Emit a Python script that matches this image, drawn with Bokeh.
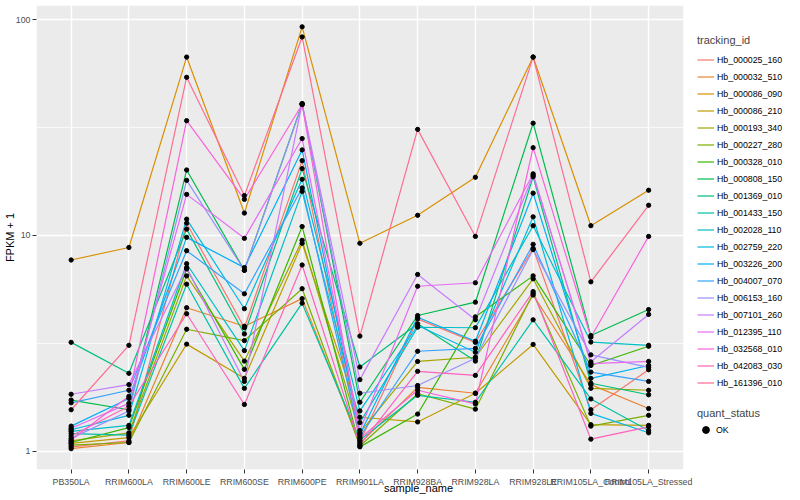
from bokeh.plotting import figure
from bokeh.models import Range1d, FixedTicker, Legend, LegendItem, BoxAnnotation
from bokeh.embed import file_html
from bokeh.resources import INLINE

samples = ["PB350LA", "RRIM600LA", "RRIM600LE", "RRIM600SE", "RRIM600PE", "RRIM901LA",
           "RRIM928BA", "RRIM928LA", "RRIM928LE", "RRIM105LA_Control", "RRIM105LA_Stressed"]

tracking_ids = ["Hb_000025_160", "Hb_000032_510", "Hb_000086_090", "Hb_000086_210", "Hb_000193_340",
                "Hb_000227_280", "Hb_000328_010", "Hb_000808_150", "Hb_001369_010", "Hb_001433_150",
                "Hb_002028_110", "Hb_002759_220", "Hb_003226_200", "Hb_004007_070", "Hb_006153_160",
                "Hb_007101_260", "Hb_012395_110", "Hb_032568_010", "Hb_042083_030", "Hb_161396_010"]

colors = ["#F8766D", "#EA8331", "#D89000", "#C09B00", "#A3A500", "#7CAE00", "#39B600", "#00BB4E",
          "#00BF7D", "#00C1A3", "#00BFC4", "#00BAE0", "#00B0F6", "#35A2FF", "#9590FF", "#C77CFF",
          "#E76BF3", "#FA62DB", "#FF62BC", "#FF6C91"]

# FPKM + 1 per sample (order of `samples`)
hb_000025_160 = [1.05, 1.12, 11.4, 3.74, 22.2, 1.11, 4.11, 3.20, 8.7, 1.56, 2.39]
hb_000032_510 = [1.03, 1.10, 4.63, 3.80, 5.10, 1.09, 1.98, 1.86, 5.3, 2.04, 1.58]
hb_000086_090 = [7.7, 8.8, 67.0, 12.7, 92.5, 9.2, 12.4, 18.6, 67.0, 11.1, 16.2]
hb_000086_210 = [1.09, 1.16, 3.14, 2.18, 9.2, 1.44, 1.37, 1.86, 3.13, 1.33, 1.32]
hb_000193_340 = [1.12, 1.22, 6.5, 2.62, 9.5, 1.22, 2.61, 2.73, 6.3, 1.96, 1.92]
hb_000227_280 = [1.07, 1.10, 3.68, 3.26, 5.67, 1.06, 1.85, 1.57, 5.4, 1.31, 1.47]
hb_000328_010 = [1.10, 1.29, 7.0, 2.40, 11.0, 1.05, 1.49, 4.20, 6.5, 2.50, 3.07]
hb_000808_150 = [1.73, 1.56, 20.1, 6.9, 40.8, 1.69, 4.26, 4.91, 33.1, 3.44, 4.54]
hb_001369_010 = [3.2, 2.3, 10.7, 3.5, 20.4, 2.46, 3.9, 2.62, 18.7, 2.07, 1.83]
hb_001433_150 = [1.21, 1.19, 5.95, 1.96, 4.86, 1.13, 1.82, 1.69, 4.07, 1.75, 1.25]
hb_002028_110 = [1.24, 1.32, 7.4, 2.93, 16.0, 1.36, 3.76, 3.74, 11.1, 3.21, 3.10]
hb_002759_220 = [1.26, 1.47, 11.9, 4.58, 18.2, 1.54, 3.83, 2.88, 12.2, 1.50, 1.22]
hb_003226_200 = [1.31, 1.76, 9.8, 7.1, 24.9, 1.20, 4.18, 3.24, 15.7, 2.18, 2.50]
hb_004007_070 = [1.68, 1.92, 8.5, 5.37, 16.6, 1.17, 2.91, 3.00, 9.1, 2.33, 2.11]
hb_006153_160 = [1.15, 1.54, 18.0, 6.9, 40.4, 1.86, 2.02, 2.70, 8.6, 2.80, 2.45]
hb_007101_260 = [1.84, 2.04, 7.1, 2.11, 40.8, 2.15, 6.6, 4.07, 19.0, 2.60, 4.31]
hb_012395_110 = [1.28, 1.67, 15.5, 9.7, 28.1, 1.25, 5.82, 6.04, 19.3, 2.55, 2.61]
hb_032568_010 = [1.13, 1.80, 34.0, 14.7, 40.4, 1.15, 1.92, 1.66, 25.5, 3.38, 9.9]
hb_042083_030 = [1.18, 1.62, 4.34, 1.65, 7.3, 1.07, 2.35, 2.25, 5.5, 1.14, 1.30]
hb_161396_010 = [1.56, 3.1, 54.0, 15.3, 83.0, 3.42, 31.0, 9.9, 67.0, 6.1, 13.8]

series = [hb_000025_160, hb_000032_510, hb_000086_090, hb_000086_210, hb_000193_340,
          hb_000227_280, hb_000328_010, hb_000808_150, hb_001369_010, hb_001433_150,
          hb_002028_110, hb_002759_220, hb_003226_200, hb_004007_070, hb_006153_160,
          hb_007101_260, hb_012395_110, hb_032568_010, hb_042083_030, hb_161396_010]

y_ticks = [1, 10, 100]

FONT = "Liberation Sans"

# discrete axis expansion (0.6 of a category on each side) and room on the right for the legends
x_lo = -0.6
x_panel_hi = len(samples) - 1 + 0.6
x_hi = 12.63

p = figure(width=800, height=500, output_backend="svg", toolbar_location=None, title=None,
           x_range=Range1d(x_lo, x_hi), y_range=Range1d(0.825, 116.1), y_axis_type="log",
           min_border_left=0, min_border_right=0, min_border_top=5, min_border_bottom=31)

p.background_fill_color = "white"
p.border_fill_color = "white"
p.outline_line_color = None

panel = BoxAnnotation(left=x_lo, right=x_panel_hi, fill_color="#EBEBEB", fill_alpha=1.0,
                      line_color=None, level="image")
p.add_layout(panel)

xs = list(range(len(samples)))

items = []
for tid, col, vals in zip(tracking_ids, colors, series):
    r = p.line(x=xs, y=vals, line_color=col, line_width=1.2)
    items.append(LegendItem(label=tid, renderers=[r]))

all_x = []
all_y = []
for vals in series:
    all_x.extend(xs)
    all_y.extend(vals)
pts = p.scatter(x=all_x, y=all_y, marker="circle", size=4.3, fill_color="black", line_color="black")

# grids
p.xgrid.grid_line_color = "white"
p.xgrid.grid_line_width = 1.4
p.ygrid.grid_line_color = "white"
p.ygrid.grid_line_width = 1.4
p.ygrid.minor_grid_line_color = "white"
p.ygrid.minor_grid_line_width = 0.7

# axes
xa = p.xaxis[0]
xa.ticker = FixedTicker(ticks=xs)
xa.major_label_overrides = {i: s for i, s in enumerate(samples)}
ya = p.yaxis[0]
ya.ticker = FixedTicker(ticks=y_ticks, minor_ticks=[10 ** 0.5, 10 ** 1.5])
ya.major_label_overrides = {t: str(t) for t in y_ticks}

for ax in (xa, ya):
    ax.axis_line_color = None
    ax.major_tick_line_color = "#333333"
    ax.major_tick_out = 4
    ax.major_tick_in = 0
    ax.minor_tick_line_color = None
    ax.major_label_text_font = FONT
    ax.major_label_text_font_size = "8.8px"
    ax.major_label_text_color = "#4D4D4D"
    ax.axis_label_text_font = FONT
    ax.axis_label_text_font_size = "11px"
    ax.axis_label_text_font_style = "normal"
    ax.axis_label_text_color = "black"

xa.major_label_standoff = 3
xa.axis_label_standoff = -8
ya.major_label_standoff = 2
ya.axis_label_standoff = -3

xa.axis_label = "sample_name"
ya.axis_label = "FPKM + 1"

leg = Legend(items=items, location=(661, 78), title="tracking_id",
             padding=0, margin=0, spacing=0, glyph_width=17, glyph_height=17, label_height=17,
             label_standoff=3, title_standoff=5, border_line_color=None, background_fill_alpha=0,
             label_text_font=FONT, label_text_font_size="8.8px", label_text_color="black",
             title_text_font=FONT, title_text_font_size="11px", title_text_font_style="normal")
p.add_layout(leg, "center")

leg2 = Legend(items=[LegendItem(label="OK", renderers=[pts])], location=(661, 31), title="quant_status",
              padding=0, margin=0, spacing=0, glyph_width=17, glyph_height=17, label_height=17,
              label_standoff=2, title_standoff=2, border_line_color=None, background_fill_alpha=0,
              label_text_font=FONT, label_text_font_size="8.8px", label_text_color="black",
              title_text_font=FONT, title_text_font_size="11px", title_text_font_style="normal")
p.add_layout(leg2, "center")

open("out.html", "w").write(file_html(p, INLINE))
